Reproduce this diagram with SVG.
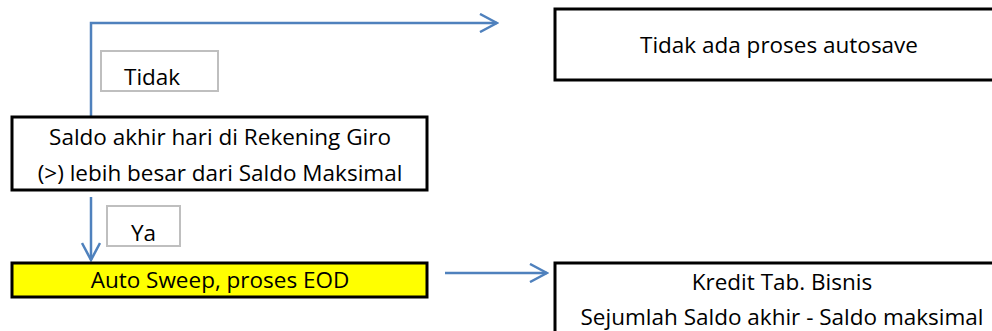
<svg xmlns="http://www.w3.org/2000/svg" width="992" height="331" viewBox="0 0 992 331">
<style>
.box{fill:#fff;stroke:#000;stroke-width:3}
.lbl{fill:#fff;stroke:#bfbfbf;stroke-width:2}
.t{font-family:"Open Sans","Liberation Sans",sans-serif;font-size:22.5px;fill:#000}
.c{stroke:#4f81bd;stroke-width:2.5;fill:none}
</style>
<defs>
<marker id="ah" markerWidth="20" markerHeight="20" refX="18" refY="10" orient="auto" markerUnits="userSpaceOnUse">
<path d="M1,1 L18,10 L1,19" fill="none" stroke="#4f81bd" stroke-width="2.5"/>
</marker>
</defs>
<g id="connectors">
<path class="c" d="M91,117 V23 H497" marker-end="url(#ah)"/>
<path class="c" d="M91,197 V260" marker-end="url(#ah)"/>
<path class="c" d="M445,273 H547" marker-end="url(#ah)"/>
</g>
<g id="lbl-tidak">
<rect class="lbl" x="101" y="51" width="117" height="40"/>
<text class="t" x="124" y="85">Tidak</text>
</g>
<g id="lbl-ya">
<rect class="lbl" x="107" y="206" width="73" height="40"/>
<text class="t" x="131" y="241">Ya</text>
</g>
<g id="node-tidak-ada">
<rect class="box" x="555" y="9" width="445" height="71"/>
<text class="t" x="779" y="53" text-anchor="middle">Tidak ada proses autosave</text>
</g>
<g id="node-saldo">
<rect class="box" x="12" y="117" width="415" height="73"/>
<text class="t" x="220" y="145" text-anchor="middle">Saldo akhir hari di Rekening Giro</text>
<text class="t" x="220" y="181" text-anchor="middle">(&gt;) lebih besar dari Saldo Maksimal</text>
</g>
<g id="node-auto">
<rect class="box" x="12" y="263" width="415" height="34" style="fill:#ffff00"/>
<text class="t" x="220" y="288" text-anchor="middle">Auto Sweep, proses EOD</text>
</g>
<g id="node-kredit">
<rect class="box" x="555" y="263" width="445" height="80"/>
<text class="t" x="782" y="290" text-anchor="middle">Kredit Tab. Bisnis</text>
<text class="t" x="782" y="325" text-anchor="middle">Sejumlah Saldo akhir - Saldo maksimal</text>
</g>
</svg>
